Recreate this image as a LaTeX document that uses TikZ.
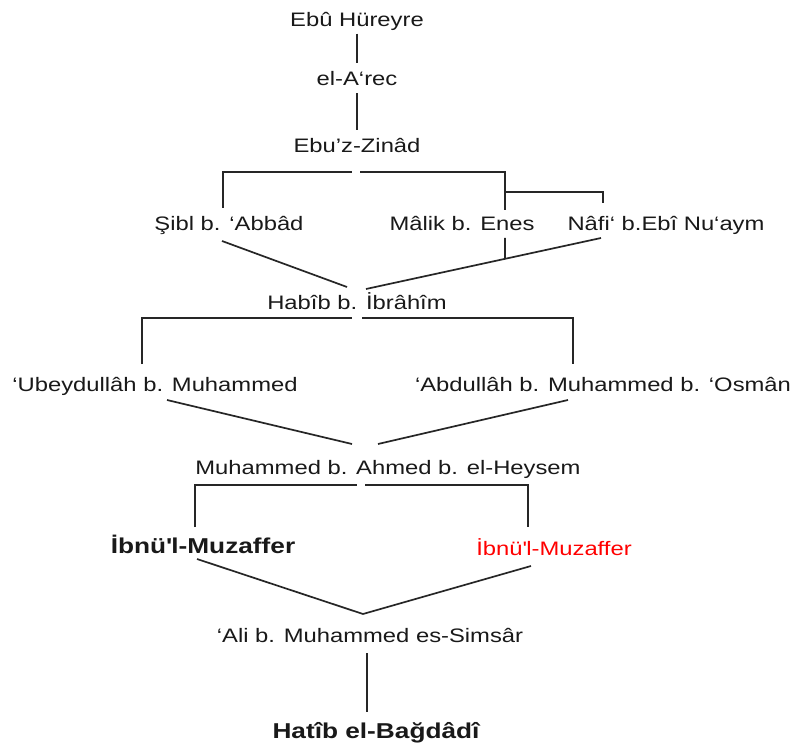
\documentclass[tikz,border=0pt]{standalone}
\usepackage{fontspec}
\setmainfont{Liberation Sans}[FakeStretch=1.22]
\usetikzlibrary{calc}
\begin{document}
\begin{tikzpicture}[x=1pt,y=-1pt,
  narrator/.style={anchor=base,inner xsep=0pt,inner ysep=5pt,
    text height=18pt,text depth=2pt,
    font=\fontsize{19.5}{23}\selectfont,text=black!90},
  keynarrator/.style={narrator,font=\fontsize{21.5}{25}\selectfont\bfseries},
  rivayet/.style={narrator,text=red},
  link/.style={draw=black!85,line width=1.7pt}]
\useasboundingbox[fill=white] (0,0) rectangle (796,749);

% narrators, top to bottom
\node[narrator] (ebu)    at (357,26.5) {Ebû Hüreyre};
\node[narrator] (arec)   at (357,86)   {el-A‘rec};
\node[narrator] (zinad)  at (357,153)  {Ebu’z-Zinâd};
\node[narrator] (sibl)   at (229,230)  {Şibl b. ‘Abbâd};
\node[narrator] (malik)  at (462,230)  {Mâlik b. Enes};
\node[narrator] (nafi)   at (666,230)  {Nâfi‘ b.Ebî Nu‘aym};
\node[narrator] (habib)  at (357,309)  {Habîb b. İbrâhîm};
\node[narrator] (ubeyd)  at (155,391)  {‘Ubeydullâh b. Muhammed};
\node[narrator] (abdul)  at (603,391)  {‘Abdullâh b. Muhammed b. ‘Osmân};
\node[narrator] (heysem) at (388,474)  {Muhammed b. Ahmed b. el-Heysem};
\node[keynarrator] (muz1) at (203,553) {İbnü\textquotesingle l-Muzaffer};
\node[rivayet] (muz2) at (554,555) {İbnü\textquotesingle l-Muzaffer};
\node[narrator] (ali)    at (370,642)  {‘Ali b. Muhammed es-Simsâr};
\node[keynarrator] (hatib) at (376,738) {Hatîb el-Bağdâdî};

% bends and junctions of the chains
\coordinate (zL) at (223,172);  \coordinate (zR) at (505,172);
\coordinate (zgL) at (352,172); \coordinate (zgR) at (360,172);
\coordinate (siblT) at (223,208);
\coordinate (malikT) at (505,210);
\coordinate (nafiJ) at (505,192); \coordinate (nafiC) at (603,192);
\coordinate (nafiT) at (603,203);
\coordinate (siblB) at (222,241); \coordinate (nafiB) at (601,238);
\coordinate (malikB) at (505,238);
\coordinate (habL) at (347,287); \coordinate (habR) at (366,289);
\coordinate (hL) at (142,318); \coordinate (hR) at (573,318);
\coordinate (hgL) at (352,318); \coordinate (hgR) at (362,318);
\coordinate (ubeydT) at (142,364); \coordinate (abdulT) at (573,364);
\coordinate (ubeydB) at (167,400); \coordinate (abdulB) at (568,400);
\coordinate (heyL) at (352,444); \coordinate (heyR) at (378,444);
\coordinate (mL) at (195,485); \coordinate (mR) at (528,485);
\coordinate (mgL) at (357,485); \coordinate (mgR) at (365,485);
\coordinate (muz1T) at (195,527); \coordinate (muz2T) at (528,527);
\coordinate (muz1B) at (197,559); \coordinate (muz2B) at (531,566);
\coordinate (aliV) at (363,614);
\coordinate (hatibX) at (367,0);

% connectors
\draw[link] (ebu) -- (arec);
\draw[link] (arec) -- (zinad);
\draw[link] (siblT) -- (zL) -- (zgL);
\draw[link] (zgR) -- (zR) -- (malikT);
\draw[link] (nafiJ) -- (nafiC) -- (nafiT);
\draw[link] (siblB) -- (habL);
\draw[link] (nafiB) -- (habR);
\draw[link] (malikB) -- ($(nafiB)!{(601-505)/(601-366)}!(habR)$);
\draw[link] (ubeydT) -- (hL) -- (hgL);
\draw[link] (hgR) -- (hR) -- (abdulT);
\draw[link] (ubeydB) -- (heyL);
\draw[link] (abdulB) -- (heyR);
\draw[link] (muz1T) -- (mL) -- (mgL);
\draw[link] (mgR) -- (mR) -- (muz2T);
\draw[link] (muz1B) -- (aliV) -- (muz2B);
\draw[link] ([yshift=-4pt]ali.south -| hatibX) -- ([yshift=3pt]hatib.north -| hatibX);
\end{tikzpicture}
\end{document}
